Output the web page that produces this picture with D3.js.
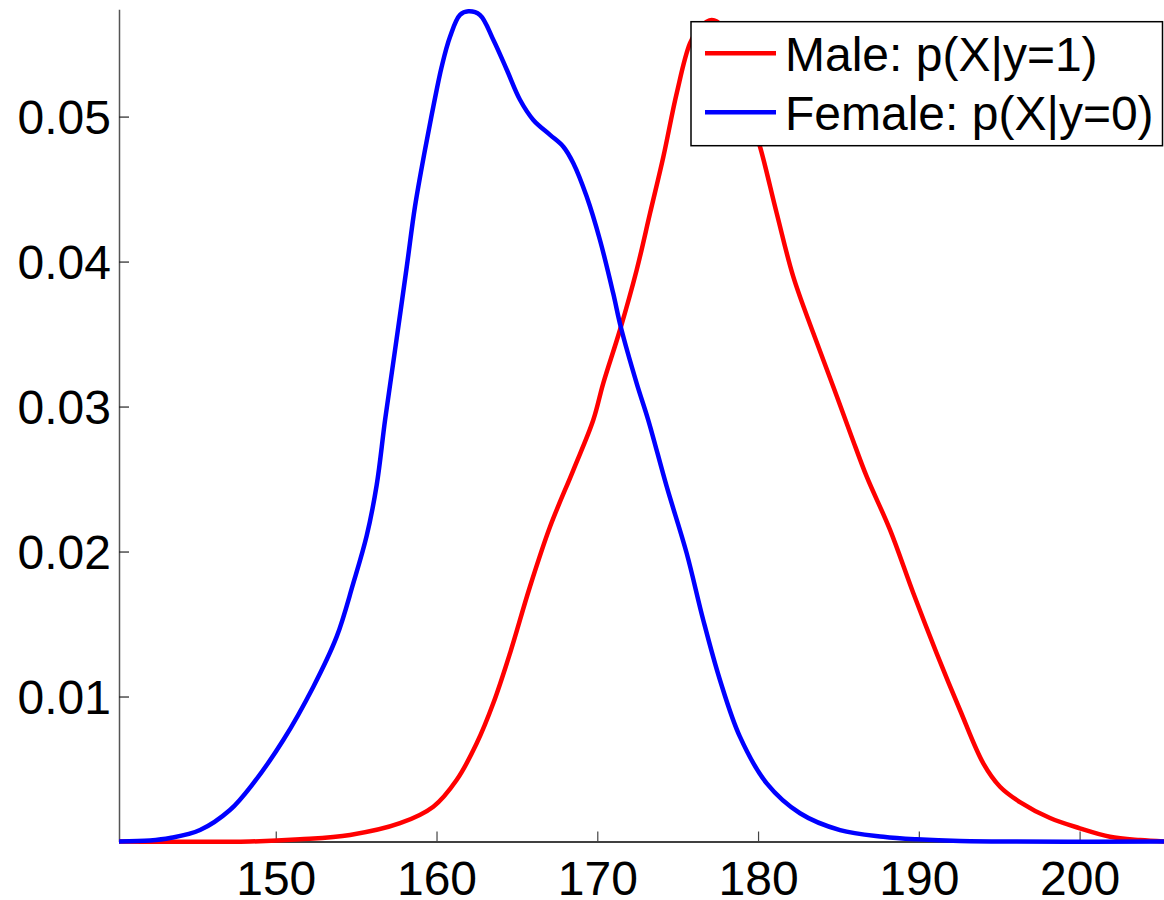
<!DOCTYPE html>
<html>
<head>
<meta charset="utf-8">
<script src="https://cdn.jsdelivr.net/npm/d3@7"></script>
<style>
  html, body { margin: 0; padding: 0; background: #fff; }
  svg { display: block; font-family: "Liberation Sans", Arial, Helvetica, sans-serif; }
</style>
</head>
<body>
<svg id="chart" width="1164" height="900"></svg>
<script>
// ---- Data ----
const femaleX = [140.25, 142.18, 143.42, 145.29, 147.15, 148.60, 150.47, 152.34, 153.79, 154.82, 155.66, 156.28, 156.80, 157.42, 158.15, 158.66, 159.28, 159.80, 160.32, 160.84, 161.46, 161.98, 162.70, 163.53, 164.37, 165.19, 166.02, 167.06, 167.89, 168.51, 169.34, 170.17, 170.99, 171.47, 172.45, 173.17, 174.32, 175.56, 176.59, 177.63, 178.87, 180.54, 182.61, 185.10, 187.79, 189.87, 192.56, 205.25];
const femaleY = [0, 0.00007, 0.00024, 0.00079, 0.00217, 0.00401, 0.00700, 0.01068, 0.01413, 0.01780, 0.02110, 0.02460, 0.02907, 0.03390, 0.03965, 0.04379, 0.04769, 0.05068, 0.05344, 0.05551, 0.05701, 0.05726, 0.05701, 0.05530, 0.05323, 0.05116, 0.04977, 0.04874, 0.04792, 0.04678, 0.04448, 0.04147, 0.03781, 0.03545, 0.03160, 0.02907, 0.02447, 0.01988, 0.01528, 0.01114, 0.00723, 0.00401, 0.00195, 0.00079, 0.00033, 0.00015, 0.00003, 0];

const maleX = [140.25, 148.40, 151.51, 154.62, 157.73, 159.80, 161.25, 162.50, 163.53, 164.57, 165.81, 167.06, 168.51, 169.75, 170.37, 171.41, 172.45, 173.28, 174.11, 174.94, 175.77, 176.39, 177.12, 177.76, 178.57, 179.37, 180.12, 181.16, 182.19, 183.44, 184.68, 185.82, 186.76, 188.21, 189.66, 191.11, 192.56, 194.01, 195.05, 196.29, 198.16, 200.02, 201.89, 203.76, 205.25];
const maleY = [0, 0, 0.00015, 0.00045, 0.00126, 0.00240, 0.00424, 0.00677, 0.00953, 0.01298, 0.01757, 0.02171, 0.02562, 0.02907, 0.03160, 0.03528, 0.03942, 0.04333, 0.04723, 0.05161, 0.05506, 0.05618, 0.05667, 0.05625, 0.05390, 0.05045, 0.04792, 0.04333, 0.03896, 0.03505, 0.03137, 0.02792, 0.02516, 0.02149, 0.01712, 0.01298, 0.00907, 0.00539, 0.00378, 0.00272, 0.00162, 0.00091, 0.00033, 0.00010, 0];

const xTicks = [150, 160, 170, 180, 190, 200];
const yTicks = [0.01, 0.02, 0.03, 0.04, 0.05];
const seriesNames = ["Male: p(X|y=1)", "Female: p(X|y=0)"];
const seriesColors = ["#ff0000", "#0000ff"];

// ---- Layout ----
const svg = d3.select("#chart");
const plotLeft = 119, plotRight = 1164, plotTop = 9.3, plotBottom = 841.5;
const fontSize = 48;

const x = d3.scaleLinear().domain([140.25, 205.25]).range([plotLeft, plotRight]);
const y = d3.scaleLinear().domain([0, 0.0574]).range([plotBottom, plotTop]);

// Axes (MATLAB style, inward ticks, no top/right box)
const yAxis = d3.axisLeft(y).tickValues(yTicks).tickFormat(d3.format(".2f"))
  .tickSize(-10).tickSizeOuter(0).tickPadding(8);
const gy = svg.append("g").attr("transform", `translate(${plotLeft},0)`).call(yAxis);
gy.select(".domain").attr("stroke", "#555").attr("stroke-width", 1.5);
gy.selectAll(".tick line").attr("stroke", "#222").attr("stroke-width", 1.2);
gy.selectAll(".tick text").attr("font-size", fontSize).attr("fill", "#000")
  .attr("font-family", "Liberation Sans, Arial, sans-serif").attr("dy", "0.36em");

const xAxis = d3.axisBottom(x).tickValues(xTicks).tickFormat(d3.format("d"))
  .tickSize(-10).tickSizeOuter(0).tickPadding(19);
const gx = svg.append("g").attr("transform", `translate(0,${plotBottom})`).call(xAxis);
gx.select(".domain").attr("stroke", "#000").attr("stroke-width", 1.5);
gx.selectAll(".tick line").attr("stroke", "#444").attr("stroke-width", 1.2);
gx.selectAll(".tick text").attr("font-size", fontSize).attr("fill", "#000")
  .attr("font-family", "Liberation Sans, Arial, sans-serif");

// Lines
const line = d3.line().x(d => x(d[0])).y(d => y(d[1])).curve(d3.curveCatmullRom.alpha(0.5));
const series = [
  { name: seriesNames[0], color: seriesColors[0], pts: d3.zip(maleX, maleY) },
  { name: seriesNames[1], color: seriesColors[1], pts: d3.zip(femaleX, femaleY) }
];
svg.append("g").selectAll("path").data(series).join("path")
  .attr("d", d => line(d.pts))
  .attr("fill", "none")
  .attr("stroke", d => d.color)
  .attr("stroke-width", 4.5)
  .attr("stroke-linejoin", "round");

// Legend
const lg = svg.append("g");
lg.append("rect").attr("x", 691).attr("y", 21.7).attr("width", 471.5).attr("height", 124)
  .attr("fill", "#fff").attr("stroke", "#000").attr("stroke-width", 1.5);
const rows = [53.3, 112.3];
series.forEach((s, i) => {
  lg.append("line").attr("x1", 705).attr("x2", 776).attr("y1", rows[i]).attr("y2", rows[i])
    .attr("stroke", s.color).attr("stroke-width", 4.5);
  lg.append("text").attr("x", 785).attr("y", rows[i] + 17.2)
    .attr("font-size", fontSize).attr("fill", "#000").text(s.name);
});
</script>
</body>
</html>
